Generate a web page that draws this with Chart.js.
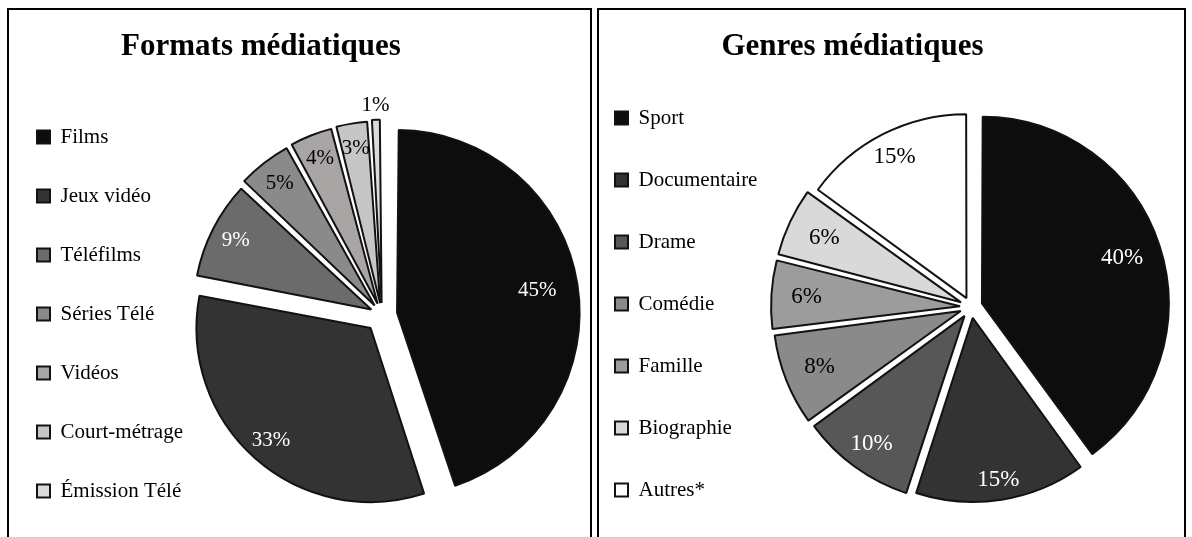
<!DOCTYPE html>
<html lang="fr">
<head>
<meta charset="utf-8">
<title>Formats et genres médiatiques</title>
<script src="https://cdn.jsdelivr.net/npm/chart.js@4.4.1/dist/chart.umd.min.js"></script>
<style>
    html, body { margin: 0; padding: 0; background: #fff; overflow: hidden; }
    body { position: relative; width: 1192px; height: 537px; }
    .panel { position: absolute; top: 8px; height: 600px; border: 2px solid #000; box-sizing: border-box; }
    #panel-formats { left: 7px; width: 585px; }
    #panel-genres { left: 597px; width: 589px; }
    canvas { position: absolute; top: 0; }
    #formatsChart { left: -1px; }
    #genresChart { left: 574px; }
</style>
</head>
<body>
<div class="panel" id="panel-formats"></div>
<div class="panel" id="panel-genres"></div>
<canvas id="formatsChart" width="594" height="560"></canvas>
<canvas id="genresChart" width="616" height="560"></canvas>
<script>
// Formats médiatiques (%)
const formatLabels = ['Films', 'Jeux vidéo', 'Téléfilms', 'Séries Télé', 'Vidéos', 'Court-métrage', 'Émission Télé'];
const formatValues = [45, 33, 9, 5, 4, 3, 1];

// Genres médiatiques (%)
const genreLabels = ['Sport', 'Documentaire', 'Drame', 'Comédie', 'Famille', 'Biographie', 'Autres*'];
const genreValues = [40, 15, 10, 8, 6, 6, 15];

const SERIF = '"Liberation Serif", "Times New Roman", serif';
Chart.defaults.font.family = SERIF;
Chart.defaults.color = '#000';

// Put the pie centre where we want it, whatever room the legend and title take
const pieCenter = {
    id: 'pieCenter',
    afterLayout(chart, args, opts) {
        const r = opts.radius;
        chart.chartArea = {
            left: opts.x - r, right: opts.x + r,
            top: opts.y - r, bottom: opts.y + r,
            width: 2 * r, height: 2 * r
        };
    }
};

// Percentage labels drawn on (or just outside) each slice
const percentLabels = {
    id: 'percentLabels',
    afterDatasetsDraw(chart, args, opts) {
        const ctx = chart.ctx;
        const meta = chart.getDatasetMeta(0);
        const values = chart.data.datasets[0].data;
        ctx.save();
        ctx.font = `${opts.size}px ${SERIF}`;
        ctx.textAlign = 'center';
        ctx.textBaseline = 'middle';
        meta.data.forEach((arc, i) => {
            const mid = (arc.startAngle + arc.endAngle) / 2;
            const dist = (arc.options.offset || 0) / 4 + opts.distance[i] * arc.outerRadius;
            ctx.fillStyle = opts.colors[i];
            ctx.fillText(values[i] + '%', arc.x + Math.cos(mid) * dist, arc.y + Math.sin(mid) * dist);
        });
        ctx.restore();
    }
};

function createPie(canvasId, title, labels, values, look) {
    const ctx = document.getElementById(canvasId);
    return new Chart(ctx, {
        type: 'pie',
        data: {
            labels: labels,
            datasets: [{
                data: values,
                backgroundColor: look.fills,
                borderColor: '#121212',
                borderWidth: 2,
                offset: look.offsets,
                radius: look.radius
            }]
        },
        options: {
            responsive: false,
            devicePixelRatio: 1,
            animation: false,
            events: [],
            layout: { padding: { right: look.padRight } },
            plugins: {
                title: {
                    display: true,
                    text: title,
                    font: { size: 31, weight: 'bold' },
                    padding: { top: 28.4, bottom: look.titleGap }
                },
                legend: {
                    position: 'left',
                    align: 'start',
                    fullSize: false,
                    labels: {
                        boxWidth: 13,
                        boxHeight: 13,
                        padding: look.legendGap,
                        font: { size: 21 }
                    }
                },
                tooltip: { enabled: false },
                pieCenter: { x: look.cx, y: look.cy, radius: look.radius },
                percentLabels: { size: look.labelSize, distance: look.labelDistance, colors: look.labelColors }
            }
        },
        plugins: [pieCenter, percentLabels]
    });
}

createPie('formatsChart', 'Formats médiatiques', formatLabels, formatValues, {
    fills: ['#0d0d0d', '#333333', '#6b6b6b', '#8a8a8a', '#aaa5a5', '#c6c6c6', '#dadada'],
    offsets: [61, 69, 48, 48, 48, 48, 48],
    radius: 172,
    cx: 383, cy: 315,
    padRight: 70,
    titleGap: 22.9,
    legendGap: 38,
    labelSize: 21,
    labelDistance: [0.825, 0.875, 0.885, 0.9, 0.91, 0.91, 1.15],
    labelColors: ['#fff', '#fff', '#fff', '#000', '#000', '#000', '#000']
});

createPie('genresChart', 'Genres médiatiques', genreLabels, genreValues, {
    fills: ['#0d0d0d', '#333333', '#575757', '#8a8a8a', '#9c9c9c', '#d9d9d9', '#ffffff'],
    offsets: [46, 44, 44, 44, 44, 44, 40],
    radius: 182,
    cx: 397, cy: 307,
    padRight: 59,
    titleGap: 0.9,
    legendGap: 41,
    labelSize: 23,
    labelDistance: [0.81, 0.9, 0.87, 0.835, 0.845, 0.83, 0.87],
    labelColors: ['#fff', '#fff', '#fff', '#000', '#000', '#000', '#000']
});
</script>
</body>
</html>
